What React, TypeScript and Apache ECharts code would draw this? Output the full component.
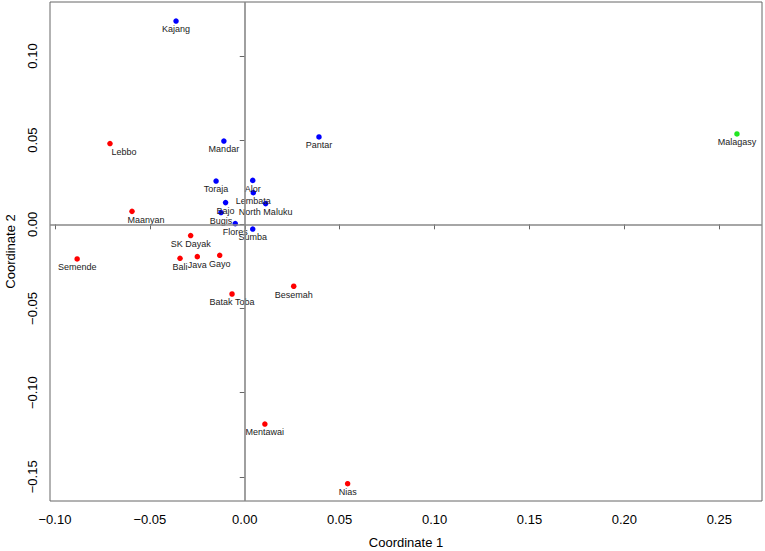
import React, { useEffect, useRef } from "react";
import * as echarts from "echarts";

// ---- data ----
const names = [
  "Kajang", "Lebbo", "Mandar", "Pantar", "Malagasy", "Toraja", "Alor", "Lembata",
  "North Maluku", "Bajo", "Bugis", "Flores", "Sumba", "Maanyan", "Semende", "SK Dayak",
  "Bali", "Java", "Gayo", "Batak Toba", "Besemah", "Mentawai", "Nias",
];
const coord1 = [
  -0.0362, -0.0710, -0.0110, 0.0391, 0.2593, -0.0151, 0.0042, 0.0045,
  0.0110, -0.0101, -0.0125, -0.0050, 0.0042, -0.0594, -0.0883, -0.0285,
  -0.0341, -0.0250, -0.0132, -0.0067, 0.0258, 0.0106, 0.0542,
];
const coord2 = [
  0.1208, 0.0480, 0.0495, 0.0519, 0.0537, 0.0257, 0.0261, 0.0188,
  0.0123, 0.0129, 0.0070, 0.0004, -0.0028, 0.0077, -0.0206, -0.0067,
  -0.0202, -0.0192, -0.0184, -0.0414, -0.0368, -0.1187, -0.1541,
];
const groups = [
  "east", "west", "east", "east", "malagasy", "east", "east", "east",
  "east", "east", "east", "east", "east", "west", "west", "west",
  "west", "west", "west", "west", "west", "west", "west",
];
const xTickValues = [-0.1, -0.05, 0, 0.05, 0.1, 0.15, 0.2, 0.25];
const yTickValues = [-0.15, -0.1, -0.05, 0, 0.05, 0.1];
const xTitle = "Coordinate 1";
const yTitle = "Coordinate 2";

// ---- styles ----
const groupColors: Record<string, string> = {
  west: "#ff0000",
  east: "#0000ff",
  malagasy: "#22e622",
};
const labelShift: Record<string, number[]> = {
  Lebbo: [14, 0],
  Maanyan: [14, 0],
};
const FONT = "'Liberation Sans', Arial, Helvetica, sans-serif";
const BOX = "#666666";

const fmt = (v: number) => {
  const s = Math.abs(v).toFixed(2);
  return v < 0 ? "\u2212" + s : s;
};

export default function App() {
  const ref = useRef<HTMLDivElement>(null);
  useEffect(() => {
    if (!ref.current) return;
    const chart = echarts.init(ref.current, undefined, { renderer: "svg" });
    const groupKeys = ["west", "east", "malagasy"];
    const series: any[] = groupKeys.map((g, gi) => ({
      type: "scatter",
      name: g,
      symbol: "circle",
      symbolSize: 5.5,
      itemStyle: { color: groupColors[g], opacity: 1 },
      label: {
        show: true,
        position: "bottom",
        distance: 1,
        formatter: "{b}",
        fontFamily: FONT,
        fontSize: 9,
        color: "#222222",
      },
      data: names
        .map((n, i) => ({ n, i }))
        .filter(({ i }) => groups[i] === g)
        .map(({ n, i }) => ({
          name: n,
          value: [coord1[i], coord2[i]],
          label: labelShift[n] ? { offset: labelShift[n] } : undefined,
        })),
      markLine:
        gi === 0
          ? {
              silent: true,
              symbol: ["none", "none"],
              label: { show: false },
              lineStyle: { color: "#888888", width: 1.6, type: "solid" },
              data: [{ xAxis: 0 }, { yAxis: 0 }],
            }
          : undefined,
      z: 3,
    }));

    chart.setOption({
      animation: false,
      backgroundColor: "#ffffff",
      grid: {
        left: 50,
        top: 2,
        width: 712,
        height: 499,
        show: true,
        borderColor: BOX,
        borderWidth: 1,
        backgroundColor: "transparent",
        containLabel: false,
        outerBoundsMode: "none",
      },
      xAxis: {
        type: "value",
        min: -0.1026,
        max: 0.2725,
        splitLine: { show: false },
        axisLine: { show: false },
        axisTick: {
          show: true,
          customValues: xTickValues,
          length: 5,
          lineStyle: { color: BOX, width: 1 },
        },
        axisLabel: {
          customValues: xTickValues,
          formatter: (v: number) => fmt(v),
          fontFamily: FONT,
          fontSize: 13,
          color: "#000000",
          margin: 12,
        },
        name: xTitle,
        nameLocation: "middle",
        nameGap: 35,
        nameTextStyle: { fontFamily: FONT, fontSize: 13, color: "#000000" },
      },
      yAxis: {
        type: "value",
        min: -0.1644,
        max: 0.1321,
        splitLine: { show: false },
        axisLine: { show: false },
        axisTick: {
          show: true,
          customValues: yTickValues,
          length: 5,
          lineStyle: { color: BOX, width: 1 },
        },
        axisLabel: {
          customValues: yTickValues,
          formatter: (v: number) => fmt(v),
          rotate: 90,
          fontFamily: FONT,
          fontSize: 13,
          color: "#000000",
          margin: 11,
        },
        name: yTitle,
        nameLocation: "middle",
        nameGap: 33,
        nameRotate: 90,
        nameTextStyle: { fontFamily: FONT, fontSize: 13, color: "#000000" },
      },
      series,
    });
    return () => chart.dispose();
  }, []);
  return (
    <div
      ref={ref}
      style={{ position: "fixed", left: 0, top: 0, width: 765, height: 551, background: "#fff" }}
    />
  );
}
